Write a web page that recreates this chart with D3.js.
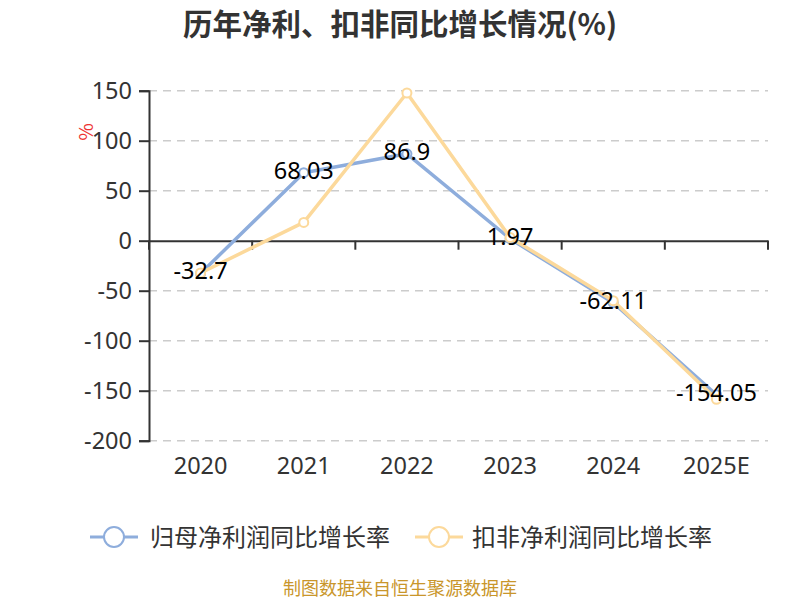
<!DOCTYPE html>
<html>
<head>
<meta charset="utf-8">
<script src="https://cdn.jsdelivr.net/npm/d3@7"></script>
<style>
    body { margin: 0; background: #fff; }
    svg { font-family: "Noto Sans CJK SC", "Noto Sans", sans-serif; }
</style>
</head>
<body>
<svg id="chart" width="800" height="600"></svg>
<script>
const years = ['2020', '2021', '2022', '2023', '2024', '2025E'];
const netGrowth = [-32.7, 68.03, 86.9, 1.97, -62.11, -154.05];
const deductedGrowth = [-32.3, 18.3, 147.7, 3.3, -60.0, -158.6];
const yTicks = [150, 100, 50, 0, -50, -100, -150, -200];
const seriesNames = ['归母净利润同比增长率', '扣非净利润同比增长率'];
const seriesColors = ['#8eaddc', '#fcd99b'];

const svg = d3.select('#chart');

const x = d3.scaleBand().domain(years).range([149, 768]);
const y = d3.scaleLinear().domain([-200, 150]).range([440.7, 90.7]);
const cx = d => x(d) + x.bandwidth() / 2;

// title
svg.append('text')
    .attr('x', 400).attr('y', 35)
    .attr('text-anchor', 'middle')
    .attr('font-size', 29.5).attr('font-weight', 'bold')
    .attr('fill', '#333')
    .text('历年净利、扣非同比增长情况(%)');

// grid
svg.append('g')
    .selectAll('line')
    .data(yTicks.filter(t => t !== 0))
    .join('line')
    .attr('x1', 149).attr('x2', 768)
    .attr('y1', d => y(d)).attr('y2', d => y(d))
    .attr('stroke', '#ccc').attr('stroke-width', 1.5)
    .attr('stroke-dasharray', '8,6');

// y axis
const yAxis = svg.append('g')
    .attr('transform', 'translate(149,0)')
    .call(d3.axisLeft(y).tickValues(yTicks).tickSize(10).tickPadding(7).tickFormat(d3.format('d')));
yAxis.select('.domain').attr('stroke', '#333').attr('stroke-width', 2);
yAxis.selectAll('.tick line').attr('stroke', '#333').attr('stroke-width', 2);
yAxis.selectAll('.tick text')
    .attr('font-size', 23.5).attr('fill', '#333')
    .attr('font-family', '"Noto Sans", sans-serif')
    .text(d => String(d));

// x axis at zero
const xAxis = svg.append('g')
    .attr('transform', `translate(0,${y(0)})`)
    .call(d3.axisBottom(x).tickSize(0).tickFormat(''));
xAxis.select('.domain').attr('stroke', '#333').attr('stroke-width', 2);
xAxis.selectAll('.tick').remove();
xAxis.append('g')
    .selectAll('line')
    .data(years.concat(['end']))
    .join('line')
    .attr('x1', (d, i) => i < years.length ? x(d) : x.range()[1])
    .attr('x2', (d, i) => i < years.length ? x(d) : x.range()[1])
    .attr('y1', 0).attr('y2', 9)
    .attr('stroke', '#333').attr('stroke-width', 2);

// x labels at bottom
svg.append('g')
    .selectAll('text')
    .data(years)
    .join('text')
    .attr('x', d => cx(d)).attr('y', 474)
    .attr('text-anchor', 'middle')
    .attr('font-size', 23.5).attr('fill', '#333')
    .attr('font-family', '"Noto Sans", sans-serif')
    .text(d => d);

// unit label
svg.append('text')
    .attr('transform', 'translate(93,132) rotate(-90)')
    .attr('text-anchor', 'middle')
    .attr('font-size', 19).attr('fill', '#e33')
    .text('%');

// lines
const line = d3.line().x((d, i) => cx(years[i])).y(d => y(d));
[netGrowth, deductedGrowth].forEach((vals, s) => {
    const g = svg.append('g');
    g.append('path')
        .attr('d', line(vals))
        .attr('fill', 'none')
        .attr('stroke', seriesColors[s]).attr('stroke-width', 3.5)
        .attr('stroke-linejoin', 'round');
    g.selectAll('circle')
        .data(vals)
        .join('circle')
        .attr('cx', (d, i) => cx(years[i])).attr('cy', d => y(d))
        .attr('r', 4.5)
        .attr('fill', '#fff')
        .attr('stroke', seriesColors[s]).attr('stroke-width', 2);
});

// data labels (net profit growth)
svg.append('g')
    .selectAll('text')
    .data(netGrowth)
    .join('text')
    .attr('x', (d, i) => cx(years[i])).attr('y', d => y(d) + 6)
    .attr('text-anchor', 'middle')
    .attr('font-size', 23.5).attr('fill', '#000')
    .attr('font-family', '"Noto Sans", sans-serif')
    .text(d => d);

// legend
const legend = svg.append('g')
    .selectAll('g')
    .data(seriesNames)
    .join('g')
    .attr('transform', (d, i) => `translate(${[90, 415][i]},537)`);
legend.append('line')
    .attr('x1', 0).attr('x2', 48)
    .attr('stroke', (d, i) => seriesColors[i]).attr('stroke-width', 3);
legend.append('circle')
    .attr('cx', 24).attr('r', 10)
    .attr('fill', '#fff')
    .attr('stroke', (d, i) => seriesColors[i]).attr('stroke-width', 2);
legend.append('text')
    .attr('x', (d, i) => i === 0 ? 60 : 57).attr('y', 9)
    .attr('font-size', 24).attr('fill', '#333')
    .text(d => d);

// source
svg.append('text')
    .attr('x', 400).attr('y', 595)
    .attr('text-anchor', 'middle')
    .attr('font-size', 18).attr('fill', '#c9962b')
    .text('制图数据来自恒生聚源数据库');
</script>
</body>
</html>
